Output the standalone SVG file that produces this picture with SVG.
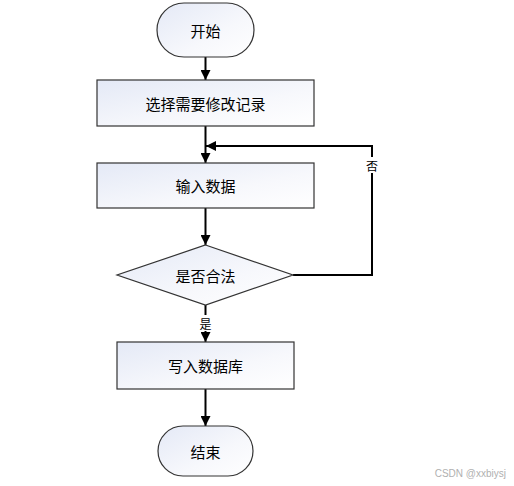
<svg xmlns="http://www.w3.org/2000/svg" width="514" height="486" viewBox="0 0 514 486">
<defs>
<linearGradient id="g" x1="0" y1="0" x2="1" y2="1">
<stop offset="0" stop-color="#e4e9f6"/>
<stop offset="0.6" stop-color="#f7f8fc"/>
<stop offset="1" stop-color="#ffffff"/>
</linearGradient>
<marker id="arr" markerWidth="10" markerHeight="10" refX="10" refY="5" orient="auto" markerUnits="userSpaceOnUse">
<path d="M0,0 L10,5 L0,10 Z" fill="#000"/>
</marker>
<style>
.s{fill:url(#g);stroke:#333;stroke-width:1.2}
.t{font-family:"Noto Sans CJK SC","Liberation Sans",sans-serif;font-size:15px;fill:#000;text-anchor:middle;dominant-baseline:central}
.l{font-family:"Noto Sans CJK SC","Liberation Sans",sans-serif;font-size:12px;fill:#000;text-anchor:middle;dominant-baseline:central}
.c{fill:none;stroke:#000;stroke-width:2}
</style>
</defs>
<rect width="514" height="486" fill="#fff"/>
<g id="connectors">
<line class="c" x1="205.5" y1="57" x2="205.5" y2="80" marker-end="url(#arr)"/>
<line class="c" x1="205.5" y1="126" x2="205.5" y2="163" marker-end="url(#arr)"/>
<line class="c" x1="205.5" y1="208" x2="205.5" y2="245" marker-end="url(#arr)"/>
<polyline class="c" points="293,275 372,275 372,146 206,146" marker-end="url(#arr)"/>
<line class="c" x1="205.5" y1="305" x2="205.5" y2="342" marker-end="url(#arr)"/>
<line class="c" x1="205.5" y1="389" x2="205.5" y2="426" marker-end="url(#arr)"/>
<rect x="364" y="157" width="16" height="16" fill="#fff"/>
<text class="l" x="372" y="165">否</text>
<rect x="197" y="315" width="16" height="16" fill="#fff"/>
<text class="l" x="205.5" y="323">是</text>
</g>
<g id="start">
<rect class="s" x="157" y="3" width="97" height="54" rx="27" ry="27"/>
<text class="t" x="205.5" y="30">开始</text>
</g>
<g id="select">
<rect class="s" x="97" y="80" width="217" height="46"/>
<text class="t" x="205.5" y="103">选择需要修改记录</text>
</g>
<g id="input">
<rect class="s" x="97" y="163" width="217" height="45"/>
<text class="t" x="205.5" y="185.5">输入数据</text>
</g>
<g id="check">
<polygon class="s" points="205.5,245 293,275 205.5,305 117,275"/>
<text class="t" x="205.5" y="275">是否合法</text>
</g>
<g id="write">
<rect class="s" x="117" y="342" width="177" height="47"/>
<text class="t" x="205.5" y="365.5">写入数据库</text>
</g>
<g id="end">
<rect class="s" x="158" y="426" width="95" height="50" rx="25" ry="25"/>
<text class="t" x="205.5" y="451">结束</text>
</g>
<text x="506" y="477" font-family="Liberation Sans, sans-serif" font-size="10" fill="#b0b0b0" text-anchor="end">CSDN @xxbiysj</text>
</svg>
